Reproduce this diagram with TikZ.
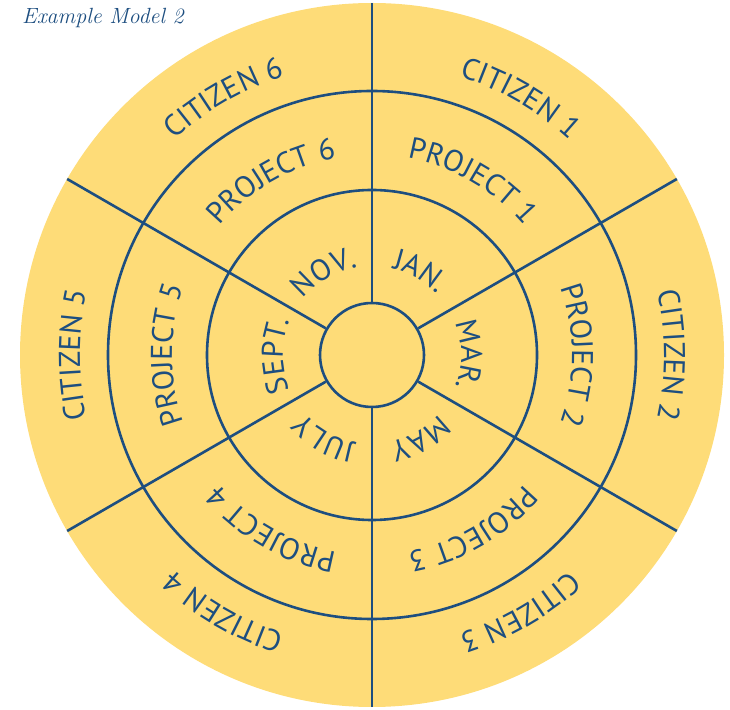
\documentclass[tikz,border=0pt]{standalone}
\usepackage{fontspec}
\usetikzlibrary{decorations.text,calc}
\newfontfamily\wheelfont[LetterSpace=1]{PT Sans}
\definecolor{wyellow}{HTML}{FEDC78}
\definecolor{wblue}{HTML}{1D4E80}
\newcommand\wheeltext[4]{%
  \path[decorate,decoration={text along path,text align=center,text color=wblue,
    text={|\wheelfont\fontsize{30}{34}\selectfont|#4}}]
    ($(O)+({#1+#3}:#2)$) arc[start angle={#1+#3},end angle={#1-#3},radius=#2];}
\begin{document}
\begin{tikzpicture}[x=1pt,y=1pt,
  ring/.style={draw=wblue,line width=2.6pt}]
\useasboundingbox (0,0) rectangle (730,709);
\coordinate (O) at (372,354);
\fill[wyellow] (O) circle[radius=352];
\draw[ring] (O) circle[radius=264];
\draw[ring] (O) circle[radius=165];
\node[ring,circle,minimum size=104pt,inner sep=0pt] (hub) at (O) {};
\foreach \a in {90,30,-30,-90,-150,150}{
  \coordinate (rim\a) at ($(O)+(\a:352)$);
  \draw[ring] (hub.\a) -- (rim\a);
}
\wheeltext{60}{292}{35}{CITIZEN 1}
\wheeltext{0}{292}{35}{CITIZEN 2}
\wheeltext{-60}{292}{35}{CITIZEN 3}
\wheeltext{-120}{292}{35}{CITIZEN 4}
\wheeltext{180}{292}{35}{CITIZEN 5}
\wheeltext{120}{292}{35}{CITIZEN 6}
\wheeltext{60}{200}{50}{PROJECT 1}
\wheeltext{0}{200}{50}{PROJECT 2}
\wheeltext{-60}{200}{50}{PROJECT 3}
\wheeltext{-120}{200}{50}{PROJECT 4}
\wheeltext{180}{200}{50}{PROJECT 5}
\wheeltext{120}{200}{50}{PROJECT 6}
\wheeltext{60}{89}{70}{JAN.}
\wheeltext{0}{89}{70}{MAR.}
\wheeltext{-60}{89}{70}{MAY}
\wheeltext{-120}{89}{70}{JULY}
\wheeltext{180}{89}{70}{SEPT.}
\wheeltext{120}{89}{70}{NOV.}
\node[anchor=base west,inner sep=0pt,text=wblue,font=\fontsize{22}{26}\selectfont\itshape] (title) at (22,685) {Example Model 2};
\end{tikzpicture}
\end{document}
